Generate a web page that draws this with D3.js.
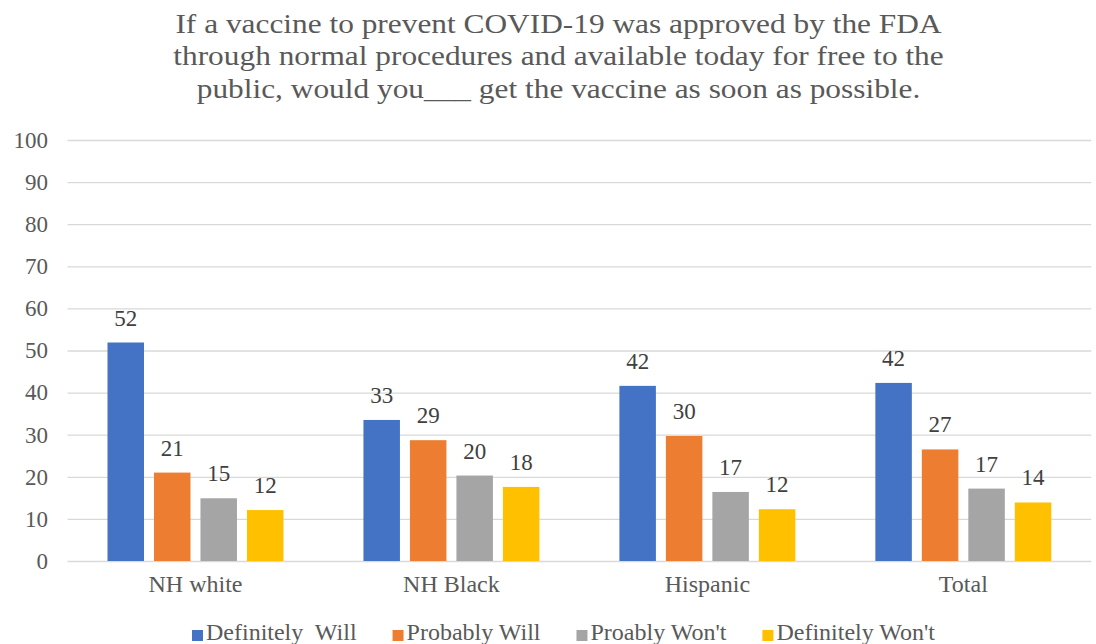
<!DOCTYPE html>
<html>
<head>
<meta charset="utf-8">
<script src="https://cdn.jsdelivr.net/npm/d3@7"></script>
<style>
  body { margin: 0; background: #fff; }
  svg text { font-family: "Liberation Serif", Tinos, "Times New Roman", Times, "DejaVu Serif", serif !important; }
</style>
</head>
<body>
<div id="chart"></div>
<script>
// categories along the x axis
const groups = ["NH white", "NH Black", "Hispanic", "Total"];

// series names (legend text kept as in the source, typo included)
const seriesNames = ["Definitely  Will", "Probably Will", "Proably Won't", "Definitely Won't"];
const seriesColors = ["#4472C4", "#ED7D31", "#A5A5A5", "#FFC000"];

// bar heights (percent)
const definitelyWill = [51.9, 33.5, 41.6, 42.3];
const probablyWill = [21.0, 28.7, 29.7, 26.5];
const probablyWont = [14.9, 20.3, 16.4, 17.2];
const definitelyWont = [12.1, 17.6, 12.3, 13.9];

// numbers printed above the bars
const definitelyWillLabels = [52, 33, 42, 42];
const probablyWillLabels = [21, 29, 30, 27];
const probablyWontLabels = [15, 20, 17, 17];
const definitelyWontLabels = [12, 18, 12, 14];

const yTicks = [0, 10, 20, 30, 40, 50, 60, 70, 80, 90, 100];

const titleLines = [
  "If a vaccine to prevent COVID-19 was approved by the FDA",
  "through normal procedures and available today for free to the",
  "public, would you___ get the vaccine as soon as possible."
];

const width = 1096;
const height = 644;
const plot = { left: 67.5, right: 1091.3, top: 140, bottom: 561 };
const fontStack = '"Liberation Serif", Tinos, "Times New Roman", Times, "DejaVu Serif", serif';

const seriesValues = [definitelyWill, probablyWill, probablyWont, definitelyWont];
const seriesLabels = [definitelyWillLabels, probablyWillLabels, probablyWontLabels, definitelyWontLabels];

// flatten into one row per bar
let dataset = [];
for (let s = 0; s < seriesNames.length; s++) {
  for (let g = 0; g < groups.length; g++) {
    dataset.push({
      group: groups[g],
      series: seriesNames[s],
      value: seriesValues[s][g],
      label: seriesLabels[s][g],
      color: seriesColors[s],
    });
  }
}

const svg = d3
  .select("#chart")
  .append("svg")
  .attr("width", width)
  .attr("height", height)
  .attr("font-family", fontStack);

const yScale = d3.scaleLinear().domain([0, 100]).range([plot.bottom, plot.top]);

const x0 = d3.scaleBand().domain(groups).range([plot.left, plot.right]);
const groupPad = 40;
const x1 = d3
  .scaleBand()
  .domain(seriesNames)
  .range([groupPad, x0.bandwidth() - groupPad])
  .paddingInner(0.215);

// title (the source text is a little wider than plain Times, so stretch it)
svg
  .append("g")
  .selectAll("text")
  .data(titleLines)
  .enter()
  .append("text")
  .attr("transform", (d, i) => `translate(558.5, ${32.5 + i * 32.5}) scale(1.12, 1)`)
  .attr("text-anchor", "middle")
  .attr("font-size", "28px")
  .attr("fill", "#595959")
  .text((d) => d);

// y axis with gridlines
const yAxis = svg
  .append("g")
  .attr("transform", `translate(${plot.left},0)`)
  .call(
    d3
      .axisLeft(yScale)
      .tickValues(yTicks)
      .tickSize(-(plot.right - plot.left))
      .tickPadding(19.5)
  )
  .attr("font-family", fontStack);
yAxis.select(".domain").remove();
yAxis.selectAll("line").attr("stroke", "#d9d9d9").attr("stroke-width", 1.3);
yAxis.selectAll("text").attr("font-size", "23px").attr("fill", "#595959");

// x axis labels
const xAxis = svg
  .append("g")
  .attr("transform", `translate(0,${plot.bottom})`)
  .call(d3.axisBottom(x0).tickSize(0).tickPadding(14))
  .attr("font-family", fontStack);
xAxis.select(".domain").remove();
xAxis.selectAll("text").attr("font-size", "24px").attr("fill", "#595959");

// bars
svg
  .append("g")
  .selectAll("rect")
  .data(dataset)
  .enter()
  .append("rect")
  .attr("x", (d) => x0(d.group) + x1(d.series))
  .attr("y", (d) => yScale(d.value))
  .attr("width", x1.bandwidth())
  .attr("height", (d) => yScale(0) - yScale(d.value))
  .attr("fill", (d) => d.color);

// value labels above the bars
svg
  .append("g")
  .selectAll("text")
  .data(dataset)
  .enter()
  .append("text")
  .attr("x", (d) => x0(d.group) + x1(d.series) + x1.bandwidth() / 2)
  .attr("y", (d) => yScale(d.value) - 17)
  .attr("text-anchor", "middle")
  .attr("font-size", "23px")
  .attr("fill", "#404040")
  .text((d) => d.label);

// legend, laid out from measured text widths
const legend = svg.append("g").attr("transform", "translate(0,640)");
const items = legend
  .selectAll("g")
  .data(seriesNames)
  .enter()
  .append("g");
items
  .append("rect")
  .attr("y", -10)
  .attr("width", 11)
  .attr("height", 11)
  .attr("fill", (d, i) => seriesColors[i]);
items
  .append("text")
  .attr("x", 14)
  .attr("font-size", "24px")
  .attr("fill", "#595959")
  .style("white-space", "pre")
  .text((d) => d);

let widths = [];
items.each(function () {
  widths.push(14 + d3.select(this).select("text").node().getComputedTextLength());
});
const itemGap = 36;
const totalWidth = d3.sum(widths) + itemGap * (widths.length - 1);
let cursor = 563.5 - totalWidth / 2;
items.attr("transform", function (d, i) {
  const pos = cursor;
  cursor += widths[i] + itemGap;
  return `translate(${pos},0)`;
});
</script>
</body>
</html>
